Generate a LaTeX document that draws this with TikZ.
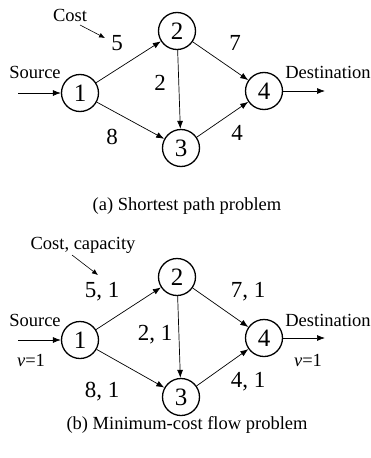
\documentclass[tikz,border=0pt]{standalone}
\usepackage{fontspec}
\setmainfont{Liberation Serif}
\usetikzlibrary{arrows.meta}
\begin{document}
\begin{tikzpicture}[x=1pt,y=-1pt,
  vertex/.style={circle,draw,line width=1.3pt,minimum size=37pt,inner sep=0pt,font=\fontsize{25}{25}\selectfont},
  edge/.style={line width=0.7pt,-{Latex[length=8pt,width=6pt]}},
  num/.style={font=\fontsize{23}{23}\selectfont,inner sep=0pt},
  txt/.style={font=\fontsize{18.5}{18.5}\selectfont,inner sep=0pt},
  note/.style={line width=0.6pt,-{Latex[length=6pt,width=5pt]}}]
\useasboundingbox (0,0) rectangle (370,458);

% (a) shortest path network
\node[vertex] (a1) at (80,93) {1};
\node[vertex] (a2) at (177,31) {2};
\node[vertex] (a3) at (181,148) {3};
\node[vertex] (a4) at (264,91) {4};
\coordinate (as) at (18,93);
\coordinate (ad) at (325,91);
\draw[edge] (as) -- (a1);
\draw[edge] (a4) -- (ad);
\draw[edge] (a1) -- (a2);
\draw[edge] (a1) -- (a3);
\draw[edge] (a2) -- (a3);
\draw[edge] (a2) -- (a4);
\draw[edge] (a3) -- (a4);
\node[num] (a12) at (117,43) {5};
\node[num] (a24) at (235,43) {7};
\node[num] (a23) at (160,83) {2};
\node[num] (a13) at (112,137) {8};
\node[num] (a34) at (237,133) {4};
\node[txt] (acost) at (70,15) {Cost};
\coordinate (acp) at (105,38);
\draw[note] (80,25) -- (acp);
\node[txt] (asrc) at (35,72) {Source};
\node[txt] (adst) at (328,72) {Destination};
\node[txt] (acap) at (187,206) {(a) Shortest path problem};

% (b) minimum-cost flow network
\begin{scope}[yshift=-247pt]
\node[vertex] (b1) at (80,93) {1};
\node[vertex] (b2) at (177,30) {2};
\node[vertex] (b3) at (181,150) {3};
\node[vertex] (b4) at (264,91) {4};
\coordinate (bs) at (18,93);
\coordinate (bd) at (325,91);
\draw[edge] (bs) -- (b1);
\draw[edge] (b4) -- (bd);
\draw[edge] (b1) -- (b2);
\draw[edge] (b1) -- (b3);
\draw[edge] (b2) -- (b3);
\draw[edge] (b2) -- (b4);
\draw[edge] (b3) -- (b4);
\node[num] (b12) at (102,45) {5, 1};
\node[num] (b24) at (248,45) {7, 1};
\node[num] (b23) at (155,88) {2, 1};
\node[num] (b13) at (102,145) {8, 1};
\node[num] (b34) at (248,135) {4, 1};
\node[txt] (bcost) at (83,-2) {Cost, capacity};
\coordinate (bcp) at (98,28);
\draw[note] (72,8) -- (bcp);
\node[txt] (bsrc) at (35,73) {Source};
\node[txt] (bdst) at (328,73) {Destination};
\node[txt] (bv1) at (31,113) {\textit{v}=1};
\node[txt] (bv4) at (308,113) {\textit{v}=1};
\node[txt] (bcap) at (187,178) {(b) Minimum-cost flow problem};
\end{scope}
\end{tikzpicture}
\end{document}
